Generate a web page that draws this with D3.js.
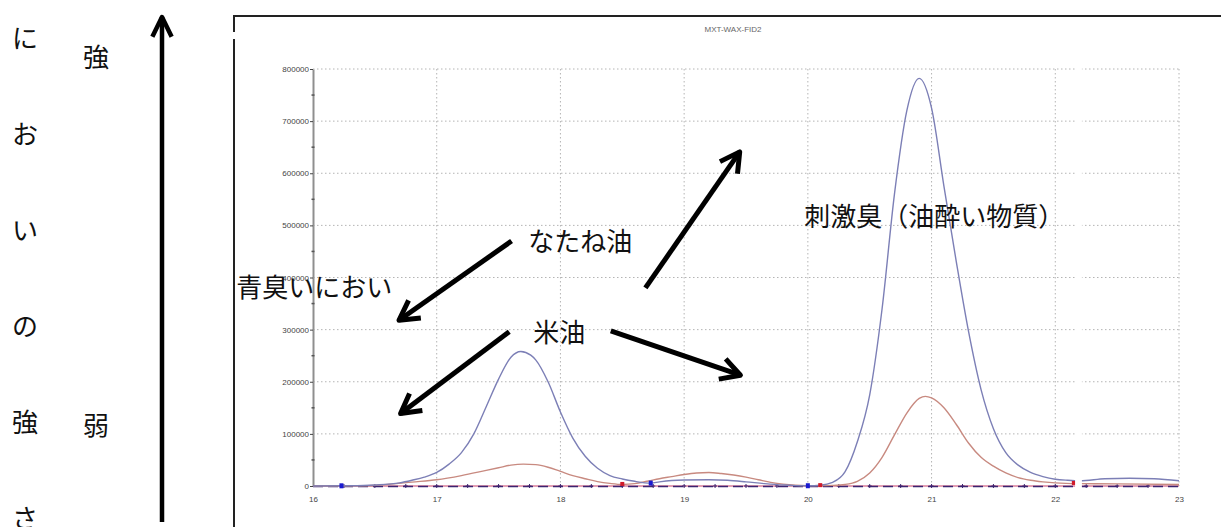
<!DOCTYPE html>
<html lang="ja">
<head>
<meta charset="utf-8">
<script src="https://cdn.jsdelivr.net/npm/d3@7/dist/d3.min.js"></script>
<style>
  html, body { margin: 0; padding: 0; background: #fff; }
  svg { display: block; }
  .jp { font-family: "Noto Sans CJK JP", "Noto Sans", sans-serif; fill: #111; }
  .tick text { font-family: "Liberation Sans", Arial, sans-serif; }
</style>
</head>
<body>
<svg id="chart" width="1221" height="527"></svg>
<script>
// ---- data: GC-FID chromatogram (retention time in min, detector response) ----
const chartTitle = "MXT-WAX-FID2";

const xTicks = [16, 17, 18, 19, 20, 21, 22, 23];
const yTicks = [0, 100000, 200000, 300000, 400000, 500000, 600000, 700000, 800000];

// trace 1 (blue)
const blueTime = [16.0, 16.3, 16.5, 16.7, 16.8, 16.9, 17.0, 17.1, 17.2, 17.3, 17.4, 17.5, 17.6, 17.68,
  17.76, 17.8, 17.9, 18.0, 18.1, 18.2, 18.3, 18.4, 18.5, 18.6, 18.73, 18.8, 18.9, 19.0, 19.2, 19.35,
  19.5, 19.65, 19.8, 19.9, 20.0, 20.1, 20.2, 20.3, 20.4, 20.5, 20.6, 20.7, 20.8, 20.9, 21.0, 21.1,
  21.2, 21.3, 21.4, 21.5, 21.6, 21.7, 21.8, 21.9, 22.0, 22.1, 22.2, 22.4, 22.6, 22.8, 23.0];
const blueSignal = [0, 500, 2000, 6000, 11000, 17000, 26000, 42000, 64000, 100000, 152000, 205000, 247000, 258000,
  251000, 242000, 200000, 142000, 92000, 57000, 34000, 20000, 13500, 9000, 5600, 8000, 10500, 11500, 12000, 11000,
  8000, 4500, 1800, 800, 500, 1500, 7000, 27000, 85000, 175000, 340000, 560000, 720000, 782000, 725000, 575000,
  430000, 295000, 185000, 110000, 64000, 40000, 26000, 18000, 13000, 11000, 10000, 14000, 15000, 14000, 10000];

// trace 2 (red)
const redTime = [16.0, 16.4, 16.6, 16.8, 17.0, 17.2, 17.4, 17.5, 17.6, 17.7, 17.8, 17.9, 18.0, 18.1,
  18.2, 18.3, 18.4, 18.5, 18.6, 18.7, 18.8, 18.9, 19.0, 19.1, 19.2, 19.3, 19.4, 19.5, 19.6, 19.7,
  19.8, 19.9, 20.0, 20.1, 20.2, 20.3, 20.4, 20.5, 20.6, 20.7, 20.8, 20.9, 20.95, 21.0, 21.1, 21.2,
  21.3, 21.4, 21.5, 21.6, 21.7, 21.8, 21.9, 22.0, 22.2, 22.5, 23.0];
const redSignal = [0, 500, 3000, 7500, 12000, 20000, 30000, 35000, 40000, 42000, 41000, 36000, 28000, 20000,
  14000, 8500, 5000, 3000, 4500, 9000, 14000, 18000, 22000, 25000, 26000, 24000, 21000, 17000, 12000, 7000,
  3500, 1500, 800, 700, 1200, 3000, 9000, 25000, 55000, 98000, 140000, 168000, 172000, 169000, 150000, 118000,
  82000, 55000, 38000, 25000, 16000, 11000, 8000, 6000, 4500, 4000, 3000];

// integration markers on the traces
const blueMarkers = [16.23, 18.73, 20.0];
const redMarkers = [18.5, 20.1, 22.15];

// annotations (retention time, response)
const labels = [
  { text: "なたね油", t: 17.74, v: 473000 },
  { text: "米油", t: 17.78, v: 298000 },
  { text: "青臭いにおい", t: 15.38, v: 384000 },
  { text: "刺激臭（油酔い物質）", t: 19.97, v: 520000 }
];
const pointers = [
  { from: [17.605, 470000], to: [16.695, 318000] },
  { from: [17.586, 296000], to: [16.708, 139000] },
  { from: [18.687, 380000], to: [19.449, 641000] },
  { from: [18.407, 297500], to: [19.455, 212500] }
];

// side legend: odour strength
const sideCaption = "においの強さ";
const strongLabel = "強";
const weakLabel = "弱";

// ---- drawing ----
const svg = d3.select("#chart");
svg.append("rect").attr("width", 1221).attr("height", 527).attr("fill", "#fff");

const x = d3.scaleLinear().domain([16, 23]).range([313, 1179]);
const y = d3.scaleLinear().domain([0, 800000]).range([486, 69]);

// outer frame (top and left rules)
const frame = svg.append("g").attr("stroke", "#222").attr("stroke-width", 2);
frame.append("line").attr("x1", 233).attr("x2", 1221).attr("y1", 16).attr("y2", 16);
frame.append("line").attr("x1", 234).attr("x2", 234).attr("y1", 15).attr("y2", 32);
frame.append("line").attr("x1", 234).attr("x2", 234).attr("y1", 39).attr("y2", 527);

// title
svg.append("text").attr("x", 733).attr("y", 32).attr("text-anchor", "middle")
  .attr("font-family", "Liberation Sans, Arial, sans-serif").attr("font-size", 8)
  .attr("fill", "#666").text(chartTitle);

// dotted grid
const grid = svg.append("g").attr("stroke", "#b4b4b4").attr("stroke-width", 1)
  .attr("stroke-dasharray", "1.5,2.5");
grid.selectAll("line.h").data(yTicks.slice(1)).join("line")
  .attr("x1", x(16)).attr("x2", x(23)).attr("y1", d => y(d)).attr("y2", d => y(d));
grid.selectAll("line.v").data(xTicks.slice(1)).join("line")
  .attr("x1", d => x(d)).attr("x2", d => x(d)).attr("y1", y(800000)).attr("y2", y(0));

// y axis
const yAxis = svg.append("g").attr("transform", `translate(${x(16)},0)`)
  .call(d3.axisLeft(y).tickValues(yTicks).tickFormat(d3.format("d")).tickSizeInner(3).tickSizeOuter(0).tickPadding(1));
yAxis.select(".domain").attr("stroke", "#8f8f8f").attr("stroke-width", 2);
yAxis.selectAll(".tick line").attr("stroke", "#444");
yAxis.selectAll(".tick text").attr("font-size", 8).attr("fill", "#444");
// minor ticks
svg.append("g").selectAll("line").data(d3.range(50000, 800000, 100000)).join("line")
  .attr("x1", x(16) - 1.5).attr("x2", x(16) + 1.5).attr("y1", d => y(d)).attr("y2", d => y(d))
  .attr("stroke", "#555").attr("stroke-width", 1.5);

// x axis labels
const xAxis = svg.append("g").attr("transform", `translate(0,${y(0)})`)
  .call(d3.axisBottom(x).tickValues(xTicks).tickFormat(d3.format("d")).tickSize(0).tickPadding(10));
xAxis.select(".domain").remove();
xAxis.selectAll(".tick text").attr("font-size", 8).attr("fill", "#444");

// baseline traces
svg.append("line").attr("x1", x(16)).attr("x2", x(23)).attr("y1", y(0)).attr("y2", y(0))
  .attr("stroke", "#c8406a").attr("stroke-width", 1.2);
svg.append("line").attr("x1", x(16)).attr("x2", x(23)).attr("y1", y(0) + 0.5).attr("y2", y(0) + 0.5)
  .attr("stroke", "#3c2470").attr("stroke-width", 1.6).attr("stroke-dasharray", "10,5");
svg.append("g").selectAll("path").data(d3.range(16.25, 23, 0.25)).join("path")
  .attr("d", d => `M${x(d) - 2},${y(0)}h4M${x(d)},${y(0) - 2}v4`)
  .attr("stroke", "#3c2470").attr("stroke-width", 1);

// chromatogram traces
const line = d3.line().x(d => x(d[0])).y(d => y(d[1])).curve(d3.curveMonotoneX);
svg.append("path").datum(redTime.map((t, i) => [t, redSignal[i]]))
  .attr("d", line).attr("fill", "none").attr("stroke", "#c88a80").attr("stroke-width", 1.4);
svg.append("path").datum(blueTime.map((t, i) => [t, blueSignal[i]]))
  .attr("d", line).attr("fill", "none").attr("stroke", "#7c7fb6").attr("stroke-width", 1.4);

// integration markers
const interp = (ts, vs, t) => {
  const i = d3.bisectLeft(ts, t);
  if (i <= 0) return vs[0];
  if (i >= ts.length) return vs[vs.length - 1];
  const k = (t - ts[i - 1]) / (ts[i] - ts[i - 1]);
  return vs[i - 1] + k * (vs[i] - vs[i - 1]);
};
svg.append("g").selectAll("rect").data(blueMarkers).join("rect")
  .attr("x", d => x(d) - 2).attr("y", d => y(interp(blueTime, blueSignal, d)) - 2.5)
  .attr("width", 4).attr("height", 5).attr("fill", "#1a1ad0");
svg.append("g").selectAll("rect").data(redMarkers).join("rect")
  .attr("x", d => x(d) - 2).attr("y", d => y(interp(redTime, redSignal, d)) - 2.5)
  .attr("width", 4).attr("height", 4).attr("fill", "#d01a2a");

// break in the trace record
svg.append("rect").attr("x", x(22.16)).attr("width", x(22.215) - x(22.16))
  .attr("y", y(800000) - 3).attr("height", y(0) - y(800000) + 8).attr("fill", "#fff");

// arrows
function arrow(g, x1, y1, x2, y2, len, deg, w) {
  const a = Math.atan2(y1 - y2, x1 - x2);
  const r = deg * Math.PI / 180;
  g.append("line").attr("x1", x1).attr("y1", y1).attr("x2", x2).attr("y2", y2)
    .attr("stroke", "#000").attr("stroke-width", w);
  g.append("path")
    .attr("d", `M${x2 + len * Math.cos(a + r)},${y2 + len * Math.sin(a + r)}L${x2},${y2}L${x2 + len * Math.cos(a - r)},${y2 + len * Math.sin(a - r)}`)
    .attr("fill", "none").attr("stroke", "#000").attr("stroke-width", w)
    .attr("stroke-linejoin", "round").attr("stroke-linecap", "butt");
}
const arrows = svg.append("g");
pointers.forEach(p => arrow(arrows, x(p.from[0]), y(p.from[1]), x(p.to[0]), y(p.to[1]), 22, 29, 5));

// annotation labels
svg.append("g").selectAll("text").data(labels).join("text")
  .attr("class", "jp").attr("x", d => x(d.t)).attr("y", d => y(d.v))
  .attr("dominant-baseline", "central").attr("font-size", 26).text(d => d.text);

// side legend
const side = svg.append("g");
side.selectAll("text").data(Array.from(sideCaption)).join("text")
  .attr("class", "jp").attr("x", 25).attr("y", (d, i) => 36 + i * 96)
  .attr("text-anchor", "middle").attr("dominant-baseline", "central").attr("font-size", 26)
  .text(d => d);
side.append("text").attr("class", "jp").attr("x", 96).attr("y", 55)
  .attr("text-anchor", "middle").attr("dominant-baseline", "central").attr("font-size", 26).text(strongLabel);
side.append("text").attr("class", "jp").attr("x", 96).attr("y", 423)
  .attr("text-anchor", "middle").attr("dominant-baseline", "central").attr("font-size", 26).text(weakLabel);
arrow(side, 162, 522, 162, 17, 22, 26, 4.5);
</script>
</body>
</html>
